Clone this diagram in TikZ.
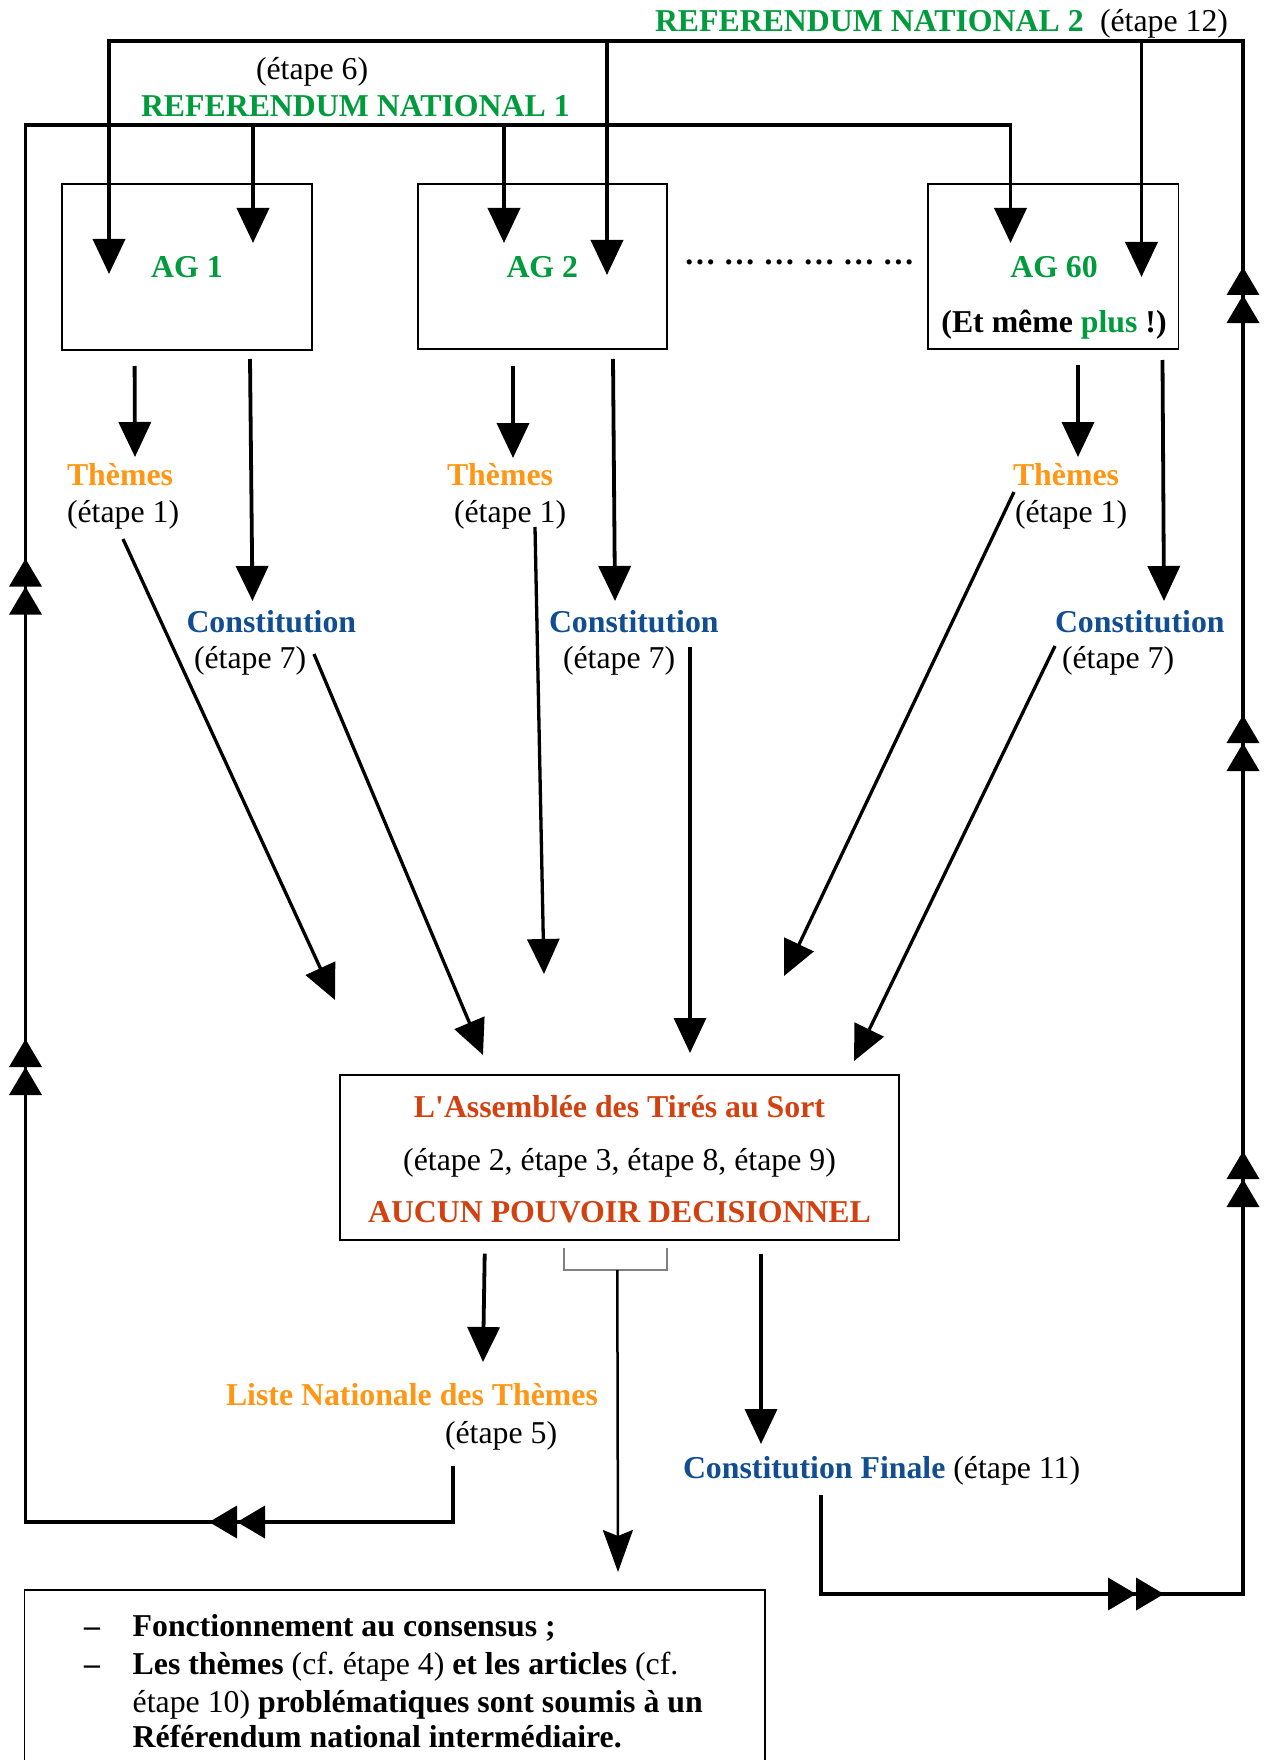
\documentclass[tikz,border=0pt]{standalone}
\usepackage{fontspec}
\setmainfont{Liberation Serif}
\newfontfamily\rawser{Liberation Serif}
\usetikzlibrary{arrows.meta}
\definecolor{rgreen}{RGB}{0,155,60}
\definecolor{rorange}{RGB}{255,150,20}
\definecolor{rblue}{RGB}{16,78,145}
\definecolor{rred}{RGB}{210,65,15}
\newcommand\fsz{\fontsize{31.8pt}{38pt}\selectfont}
\frenchspacing
\begin{document}
\begin{tikzpicture}[x=1pt,y=-1pt,
  txt/.style={inner sep=0pt, outer sep=0pt, font=\fsz},
  btxt/.style={inner sep=0pt, outer sep=0pt, font=\fsz\bfseries},
  boxs/.style={draw, line width=1.5pt, inner sep=0pt},
  conn/.style={line width=3.8pt},
  diag/.style={line width=3.3pt},
  tri/.style={-{Triangle[length=35pt,width=32pt]}},
  dbl/.style={-{Triangle[length=28pt,width=32pt]Triangle[length=28pt,width=32pt]}},
]
\fill[white] (0,0) rectangle (1268,1760);
\useasboundingbox (0,0) rectangle (1268,1760);

% ---------- titles ----------
\node[btxt, text=rgreen, anchor=base west] (rn2) at (655,32) {REFERENDUM NATIONAL 2};
\node[txt, anchor=base west] (e12) at (1100,32) {(étape 12)};
\node[txt, anchor=base west] (e6) at (256,80) {(étape 6)};
\node[btxt, text=rgreen, anchor=base west] (rn1) at (141,117) {REFERENDUM NATIONAL 1};

% ---------- AG boxes ----------
\node[boxs, minimum width=250pt, minimum height=166pt] (ag1) at (187,267) {};
\node[btxt, text=rgreen, anchor=base] (ag1t) at (187,278) {AG 1};
\node[boxs, minimum width=249pt, minimum height=165pt] (ag2) at (542.3,266.5) {};
\node[btxt, text=rgreen, anchor=base] (ag2t) at (542.3,278) {AG 2};
\node[boxs, minimum width=250.5pt, minimum height=165pt] (ag60) at (1053.3,266.5) {};
\node[btxt, text=rgreen, anchor=base] (ag60t) at (1054,278) {AG 60};
\node[btxt, anchor=base] (plus) at (1054,332) {(Et même \textcolor{rgreen}{plus} !)};
\node[btxt, anchor=base west] (dots) at (684,265) {… … … … … …};

% ---------- Themes / Constitution ----------
\node[btxt, text=rorange, anchor=base west] (th1) at (67,485) {Thèmes};
\node[txt, anchor=base west] (th1e) at (67,522) {(étape 1)};
\node[btxt, text=rorange, anchor=base west] (th2) at (447,485) {Thèmes};
\node[txt, anchor=base west] (th2e) at (454,522) {(étape 1)};
\node[btxt, text=rorange, anchor=base west] (th3) at (1013,485) {Thèmes};
\node[txt, anchor=base west] (th3e) at (1015,522) {(étape 1)};

\node[btxt, text=rblue, anchor=base west] (co1) at (186.5,632) {Constitution};
\node[txt, anchor=base west] (co1e) at (194,668) {(étape 7)};
\node[btxt, text=rblue, anchor=base west] (co2) at (549,632) {Constitution};
\node[txt, anchor=base west] (co2e) at (563,668) {(étape 7)};
\node[btxt, text=rblue, anchor=base west] (co3) at (1055,632) {Constitution};
\node[txt, anchor=base west] (co3e) at (1062,668) {(étape 7)};

% ---------- central box ----------
\node[boxs, minimum width=559pt, minimum height=165pt] (ats) at (619.5,1157.5) {};
\node[btxt, text=rred, anchor=base] (ats1) at (619.5,1117) {L{\rawser '}Assemblée des Tirés au Sort};
\node[txt, anchor=base] (ats2) at (619.5,1170) {(étape 2, étape 3, étape 8, étape 9)};
\node[btxt, text=rred, anchor=base] (ats3) at (619.5,1222) {AUCUN POUVOIR DECISIONNEL};

% ---------- outputs ----------
\node[btxt, text=rorange, anchor=base west] (liste) at (226,1405) {Liste Nationale des Thèmes};
\node[txt, anchor=base west] (liste5) at (445,1443.6) {(étape 5)};
\node[btxt, text=rblue, anchor=base west] (cf) at (683,1478) {Constitution Finale \mdseries\textcolor{black}{(étape 11)}};

% ---------- bottom box ----------
\draw[line width=1.5pt] (24.5,1770) -- (24.5,1590) -- (765,1590) -- (765,1770);
\node[btxt, anchor=base west] (d1) at (84,1636) {–};
\node[btxt, anchor=base west] (l1) at (132.7,1636) {Fonctionnement au consensus ;};
\node[btxt, anchor=base west] (d2) at (84,1674) {–};
\node[btxt, anchor=base west] (l2) at (132.7,1674) {Les thèmes \mdseries(cf.\ étape 4) \bfseries et les articles \mdseries(cf.};
\node[btxt, anchor=base west] (l3) at (132.7,1712) {\mdseries étape 10) \bfseries problématiques sont soumis à un};
\node[btxt, anchor=base west] (l4) at (132.7,1747) {Référendum national intermédiaire.};

% ---------- coordinates ----------
\coordinate (cfb) at (821,1495);
\coordinate (cfc) at (821,1594);
\coordinate (rbc) at (1243,1594);
\coordinate (rtc) at (1243,41);
\coordinate (ltc) at (109,41);
\coordinate (t2a) at (109,274);
\coordinate (t2b) at (607,275);
\coordinate (t2c) at (1141.5,277);
\coordinate (s2b) at (607,41);
\coordinate (s2c) at (1141.5,41);

\coordinate (lsb) at (453,1466);
\coordinate (lsc) at (453,1522);
\coordinate (lbc) at (25.5,1522);
\coordinate (ltl) at (25.5,125);
\coordinate (rtr) at (1010.5,125);
\coordinate (t1c) at (1010.5,243);
\coordinate (s1a) at (253,125);
\coordinate (t1a) at (253,243);
\coordinate (s1b) at (504,125);
\coordinate (t1b) at (504,243);

% ---------- referendum 2 loop ----------
\draw[conn, tri] (cfb) -- (cfc) -- (rbc) -- (rtc) -- (ltc) -- (t2a);
\draw[conn, tri] (s2b) -- (t2b);
\draw[conn, tri] (s2c) -- (t2c);
\draw[conn, dbl] (1060,1594) -- (1164,1594);
\draw[conn, dbl] (1243,1260) -- (1243,1151);
\draw[conn, dbl] (1243,820) -- (1243,715);
\draw[conn, dbl] (1243,380) -- (1243,267);

% ---------- referendum 1 loop ----------
\draw[conn, tri] (lsb) -- (lsc) -- (lbc) -- (ltl) -- (rtr) -- (t1c);
\draw[conn, tri] (s1a) -- (t1a);
\draw[conn, tri] (s1b) -- (t1b);
\draw[conn, dbl] (320,1522) -- (209,1522);
\draw[conn, dbl] (25.5,670) -- (25.5,558.6);
\draw[conn, dbl] (25.5,1150) -- (25.5,1039);

% ---------- AG -> Themes / Constitution ----------
\coordinate (a1s) at (134.6,366); \coordinate (a1t) at (135,457);
\coordinate (b1s) at (250,359);   \coordinate (b1t) at (252.5,601);
\coordinate (a2s) at (513,366);   \coordinate (a2t) at (513,458);
\coordinate (b2s) at (613,359);   \coordinate (b2t) at (615,601);
\coordinate (a3s) at (1078,365);  \coordinate (a3t) at (1078,457);
\coordinate (b3s) at (1162.5,360);\coordinate (b3t) at (1164,601);
\draw[conn, tri] (a1s) -- (a1t);
\draw[conn, tri] (b1s) -- (b1t);
\draw[conn, tri] (a2s) -- (a2t);
\draw[conn, tri] (b2s) -- (b2t);
\draw[conn, tri] (a3s) -- (a3t);
\draw[conn, tri] (b3s) -- (b3t);

% ---------- towards the central box ----------
\coordinate (d1s) at (123,539);   \coordinate (d1t) at (335,1000);
\coordinate (d2s) at (314,654);   \coordinate (d2t) at (483,1055);
\coordinate (d3s) at (535,527);   \coordinate (d3t) at (544,974);
\coordinate (d4s) at (690,647);   \coordinate (d4t) at (690,1053);
\coordinate (d5s) at (1014,492);  \coordinate (d5t) at (784,976);
\coordinate (d6s) at (1055,646);  \coordinate (d6t) at (854,1061);
\draw[diag, tri] (d1s) -- (d1t);
\draw[diag, tri] (d2s) -- (d2t);
\draw[diag, tri] (d3s) -- (d3t);
\draw[diag, tri] (d4s) -- (d4t);
\draw[diag, tri] (d5s) -- (d5t);
\draw[diag, tri] (d6s) -- (d6t);

% ---------- from the central box ----------
\coordinate (o1s) at (484.7,1253.6); \coordinate (o1t) at (483,1362);
\coordinate (o2s) at (761,1253.6);   \coordinate (o2t) at (761,1444);
\draw[conn, tri] (o1s) -- (o1t);
\draw[conn, tri] (o2s) -- (o2t);

\draw[gray, line width=2.2pt] (564.3,1248) -- (564.3,1270) -- (666.7,1270) -- (666.7,1248);
\coordinate (brm) at (617.3,1270);
\coordinate (brt) at (618,1572);
\draw[line width=2.5pt, -{Stealth[length=42pt,width=30pt,inset=6pt]}] (brm) -- (brt);
\end{tikzpicture}
\end{document}
